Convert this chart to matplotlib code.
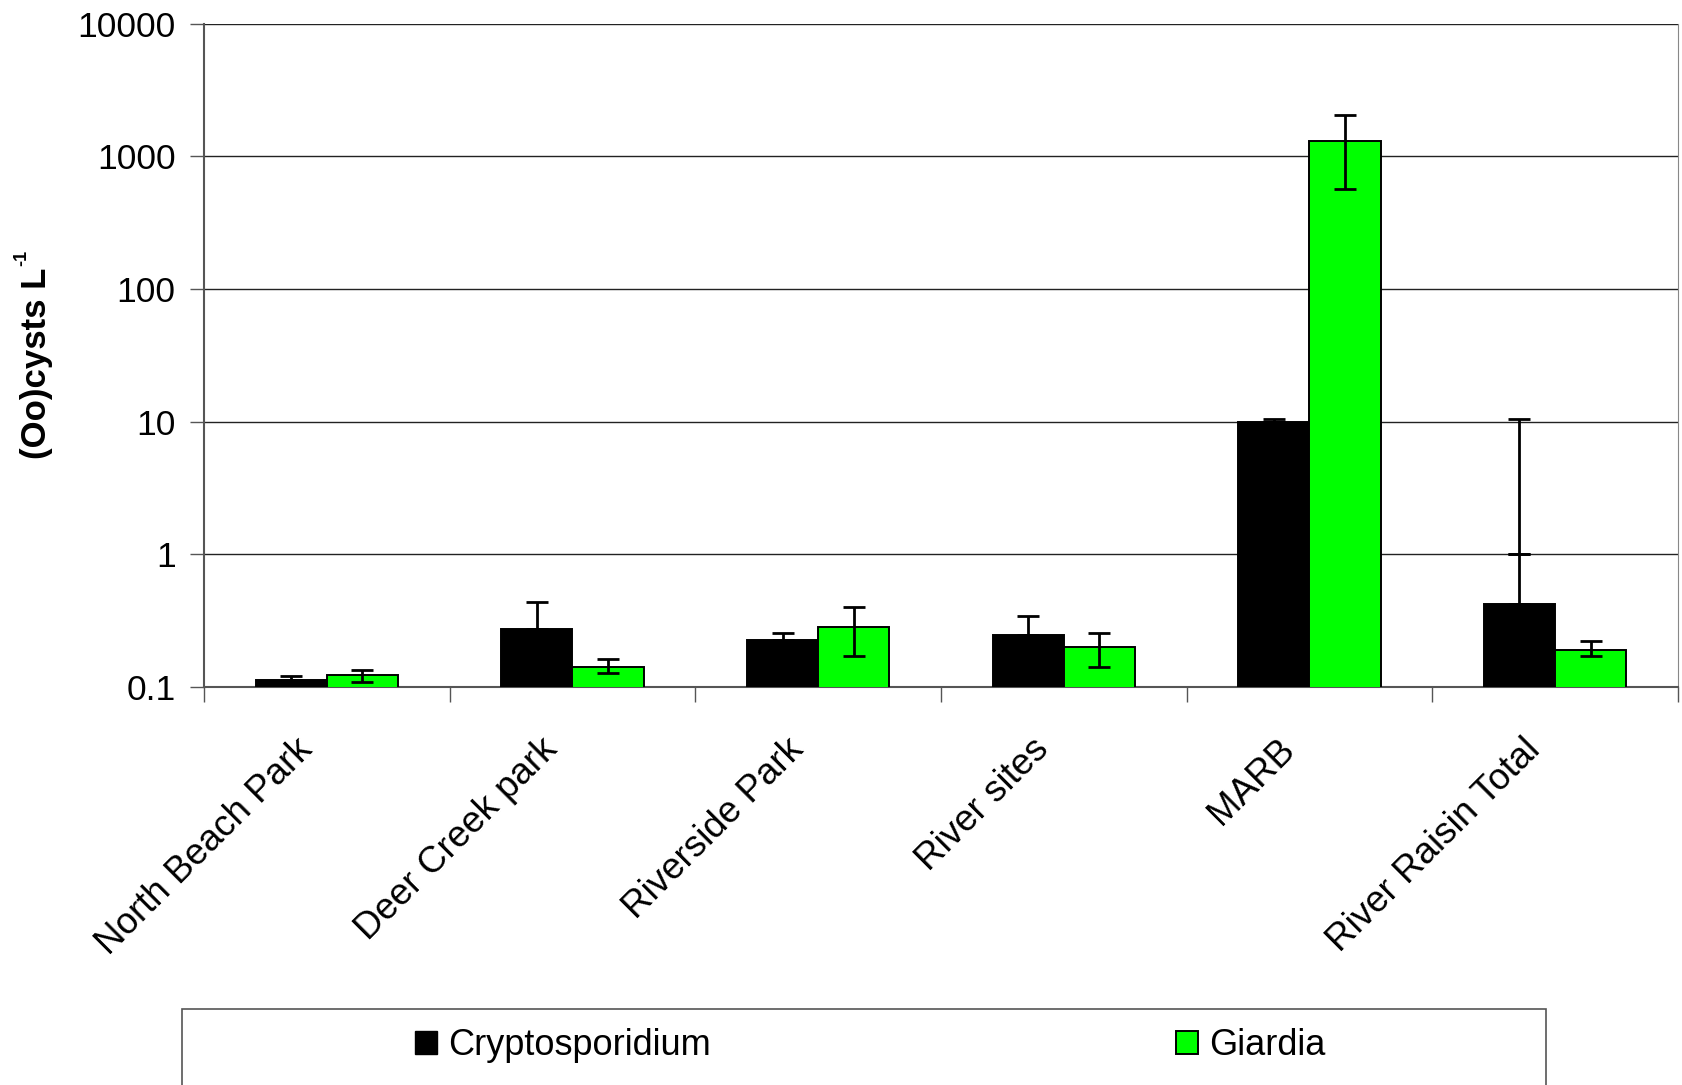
import numpy as np
import matplotlib
matplotlib.use("Agg")
import matplotlib.pyplot as plt
import matplotlib.transforms as mtransforms
from matplotlib.patches import Rectangle, Patch

plt.rcParams["font.family"] = ["Liberation Sans", "DejaVu Sans"]

# ── Data ──────────────────────────────────────────────────────────────────────

sites = ["North Beach Park", "Deer Creek park", "Riverside Park",
         "River sites", "MARB", "River Raisin Total"]

crypto      = [0.112, 0.272, 0.225, 0.245, 10.0, 0.425]
crypto_hi   = [0.122, 0.440, 0.255, 0.343, 10.4, 10.4]
crypto_mark = [None, None, None, None, None, 1.0]   # extra cap on the long bar

giardia     = [0.1225, 0.142, 0.284, 0.199, 1310, 0.190]
giardia_lo  = [0.110, 0.1275, 0.171, 0.141, 566, 0.171]
giardia_hi  = [0.134, 0.1635, 0.399, 0.254, 2057, 0.221]

y_ticks = [0.1, 1, 10, 100, 1000, 10000]
y_tick_labels = ["0.1", "1", "10", "100", "1000", "10000"]

GREEN = "#00ff00"
BAR_W = 0.29

# ── Figure ────────────────────────────────────────────────────────────────────

fig = plt.figure(figsize=(16.83, 10.85), dpi=100)
ax = fig.add_axes([0.1212, 0.3668, 0.997 - 0.1212, 0.9782 - 0.3668])

x = np.arange(len(sites))
xc = x - 0.145
xg = x + 0.145

ax.bar(xc, crypto, width=BAR_W, color="black", edgecolor="black",
       linewidth=1.4, zorder=3)
ax.bar(xg, giardia, width=BAR_W, color=GREEN, edgecolor="black",
       linewidth=1.4, zorder=3)

err_kw = dict(fmt="none", ecolor="black", elinewidth=2, capsize=8,
              capthick=2, zorder=4)

# crypto: upper error bars only
c = np.array(crypto)
ax.errorbar(xc, c, yerr=[np.zeros_like(c), np.array(crypto_hi) - c], **err_kw)
for xi, m in zip(xc, crypto_mark):
    if m is not None:
        ax.errorbar([xi], [m], yerr=[[0], [0]], **err_kw)

g = np.array(giardia)
ax.errorbar(xg, g, yerr=[g - np.array(giardia_lo), np.array(giardia_hi) - g],
            **err_kw)

# ── Axes styling ──────────────────────────────────────────────────────────────

ax.set_yscale("log")
ax.set_ylim(0.1, 10000)
ax.set_xlim(-0.5, len(sites) - 0.5)
ax.set_yticks(y_ticks)
ax.set_yticklabels(y_tick_labels, fontsize=25.5)
ax.minorticks_off()
ax.yaxis.grid(True, color="#222222", linewidth=1.0, zorder=0)
ax.set_axisbelow(True)
ax.tick_params(axis="y", length=10, width=1, color="#555555", pad=10.5)

ax.set_xticks(x)
ax.set_xticklabels(sites, fontsize=26.5, rotation=45, ha="right",
                   va="center", rotation_mode="anchor")
ax.tick_params(axis="x", length=0, pad=34)
shift = mtransforms.ScaledTranslation(-0.20, -0.10, fig.dpi_scale_trans)
for lbl in ax.get_xticklabels():
    lbl.set_transform(lbl.get_transform() + shift)
ax.set_xticks(np.arange(-0.5, len(sites)), minor=True)
ax.tick_params(axis="x", which="minor", length=11, width=1, color="#555555")

for side in ["left", "bottom"]:
    ax.spines[side].set_color("#555555")
    ax.spines[side].set_linewidth(1.5)
ax.spines["right"].set_color("#888888")
ax.spines["top"].set_visible(False)

# y axis title with a small raised "-1"
ylab = fig.text(20 / 1683, 0.6654, "(Oo)cysts L", rotation=90, ha="left",
                va="center", fontsize=25, fontweight="bold")
ax.annotate("-1", xy=(0, 1), xycoords=ylab, xytext=(-5, 1),
            textcoords="offset points", rotation=90, ha="left", va="bottom",
            fontsize=13, fontweight="bold", annotation_clip=False)

# ── Legend ────────────────────────────────────────────────────────────────────

fig.patches.append(Rectangle((0.1084, -0.05), 0.9184 - 0.1084, 0.12,
                             transform=fig.transFigure, facecolor="white",
                             edgecolor="#555555", linewidth=1.2))
handles = [Patch(facecolor="black", edgecolor="black", label="Cryptosporidium"),
           Patch(facecolor=GREEN, edgecolor="black", linewidth=1.4, label="Giardia")]
fig.legend(handles=handles, loc="center left", bbox_to_anchor=(0.2468, 0.036),
           ncol=2, frameon=False, fontsize=26, handlelength=0.6,
           handleheight=0.6, handletextpad=0.3, columnspacing=12.9,
           borderpad=0, borderaxespad=0)

fig.savefig("out.png", dpi=100)
